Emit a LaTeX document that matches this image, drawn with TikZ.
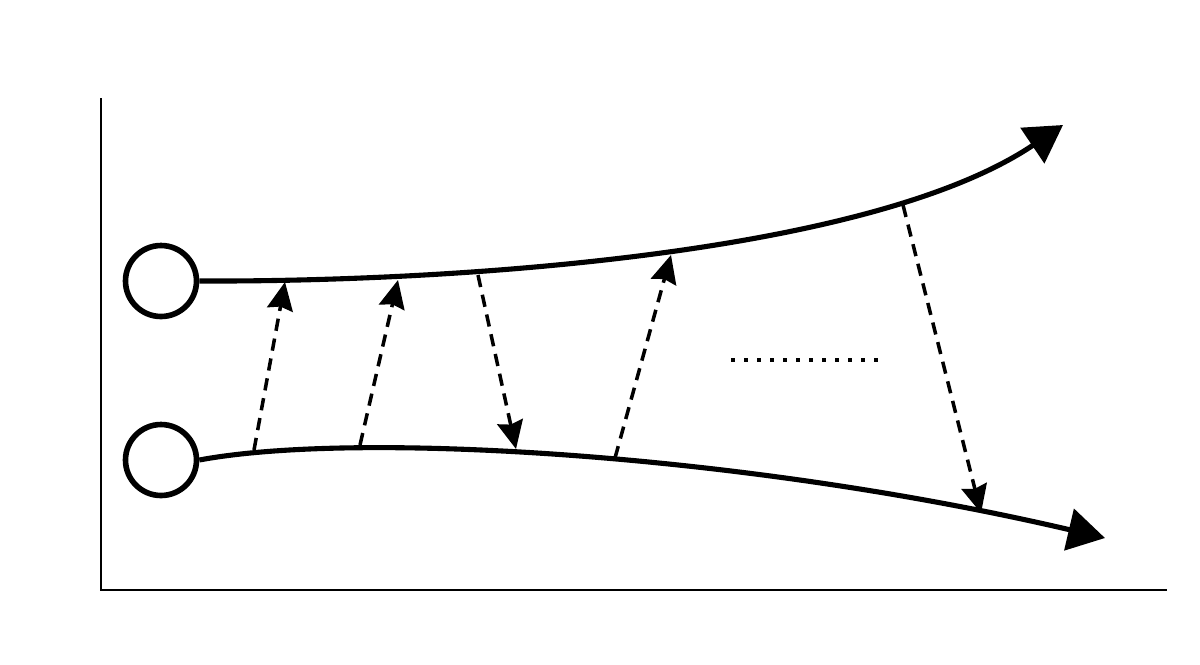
\documentclass[tikz,border=0pt]{standalone}
\usetikzlibrary{arrows.meta}
\begin{document}
\begin{tikzpicture}[x=0.02cm,y=-0.02cm,
  axis/.style={line width=1pt},
  state/.style={circle,draw,line width=3.2pt,minimum size=1.42cm,inner sep=0pt},
  track/.style={line width=2.9pt,-{Triangle[length=0.74cm,width=0.84cm]}},
  hop/.style={line width=2pt,dash pattern=on 7pt off 4.5pt,-{Stealth[length=0.56cm,width=0.52cm,inset=0.06cm]}},
  dots/.style={line width=2.2pt,dash pattern=on 2pt off 5.4pt}]
\useasboundingbox (0,0) rectangle (1200,664);
% axes
\coordinate (ytop) at (101,98);
\coordinate (orig) at (101,590);
\coordinate (xend) at (1167,590);
\draw[axis] (ytop) -- (orig) -- (xend);
% states
\node[state] (s1) at (161,281) {};
\node[state] (s2) at (161,460) {};
\coordinate (t1end) at (1063,125);
\coordinate (t2end) at (1105,538);
\draw[track] (s1.east) .. controls (450,282) and (870,255) .. (t1end);
\draw[track] (s2.east) .. controls (360,430) and (750,455) .. (t2end);
% hop points
\coordinate (a1) at (254,450); \coordinate (b1) at (285,282);
\coordinate (a2) at (360,445); \coordinate (b2) at (398,280);
\coordinate (a3) at (478,275); \coordinate (b3) at (516,449);
\coordinate (a4) at (615,458); \coordinate (b4) at (671,255);
\coordinate (a5) at (903,205); \coordinate (b5) at (981,513);
\draw[hop] (a1) -- (b1);
\draw[hop] (a2) -- (b2);
\draw[hop] (a3) -- (b3);
\draw[hop] (a4) -- (b4);
\draw[hop] (a5) -- (b5);
\coordinate (d1) at (731,360);
\coordinate (d2) at (880,360);
\draw[dots] (d1) -- (d2);
\end{tikzpicture}
\end{document}
